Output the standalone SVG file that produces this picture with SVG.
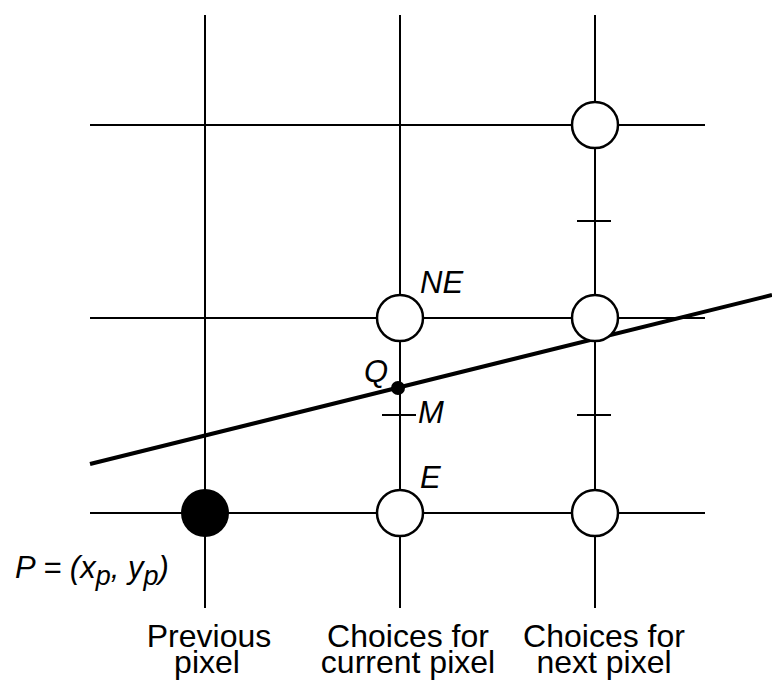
<svg xmlns="http://www.w3.org/2000/svg" width="772" height="683" viewBox="0 0 772 683">
<style>
.grid{stroke:#000;stroke-width:2;fill:none}
.pix{fill:#fff;stroke:#000;stroke-width:2.5}
.lbl{font-family:"Liberation Sans",Arial,sans-serif;font-size:31px;font-style:italic;fill:#000}
.cap{font-family:"Liberation Sans",Arial,sans-serif;font-size:32px;fill:#000;text-anchor:middle}
</style>
<rect width="772" height="683" fill="#fff"/>
<g id="connectors">
<g class="grid">
<line x1="205" y1="15" x2="205" y2="608"/>
<line x1="400" y1="15" x2="400" y2="608"/>
<line x1="595" y1="15" x2="595" y2="608"/>
<line x1="90" y1="125" x2="705" y2="125"/>
<line x1="90" y1="318" x2="705" y2="318"/>
<line x1="90" y1="513" x2="705" y2="513"/>
<line x1="382" y1="415" x2="416" y2="415"/>
<line x1="577" y1="221" x2="611" y2="221"/>
<line x1="577" y1="415" x2="611" y2="415"/>
</g>
<line id="line" x1="90" y1="464" x2="772" y2="295" stroke="#000" stroke-width="4"/>
</g>
<g id="prev"><circle cx="205" cy="513" r="24" fill="#000"/></g>
<g id="E"><circle class="pix" cx="400" cy="513" r="23"/></g>
<g id="NE"><circle class="pix" cx="400" cy="318" r="23"/></g>
<g id="next1"><circle class="pix" cx="595" cy="513" r="23"/></g>
<g id="next2"><circle class="pix" cx="595" cy="318" r="23"/></g>
<g id="next3"><circle class="pix" cx="595" cy="125" r="23"/></g>
<g id="Q"><circle cx="398" cy="388" r="7" fill="#000"/></g>
<g id="labels">
<text class="lbl" x="420" y="293">NE</text>
<text class="lbl" x="420" y="488">E</text>
<text class="lbl" x="364" y="382">Q</text>
<text class="lbl" x="418" y="423">M</text>
<text class="lbl" x="15" y="578" font-size="33">P = (x<tspan font-size="27" dy="7">p</tspan><tspan dy="-7">, y</tspan><tspan font-size="27" dy="7">p</tspan><tspan dy="-7">)</tspan></text>
<text class="cap"><tspan x="209" y="647">Previous</tspan><tspan x="207" y="673">pixel</tspan></text>
<text class="cap"><tspan x="408" y="647">Choices for</tspan><tspan x="408" y="673">current pixel</tspan></text>
<text class="cap"><tspan x="604" y="647">Choices for</tspan><tspan x="604" y="673">next pixel</tspan></text>
</g>
</svg>
